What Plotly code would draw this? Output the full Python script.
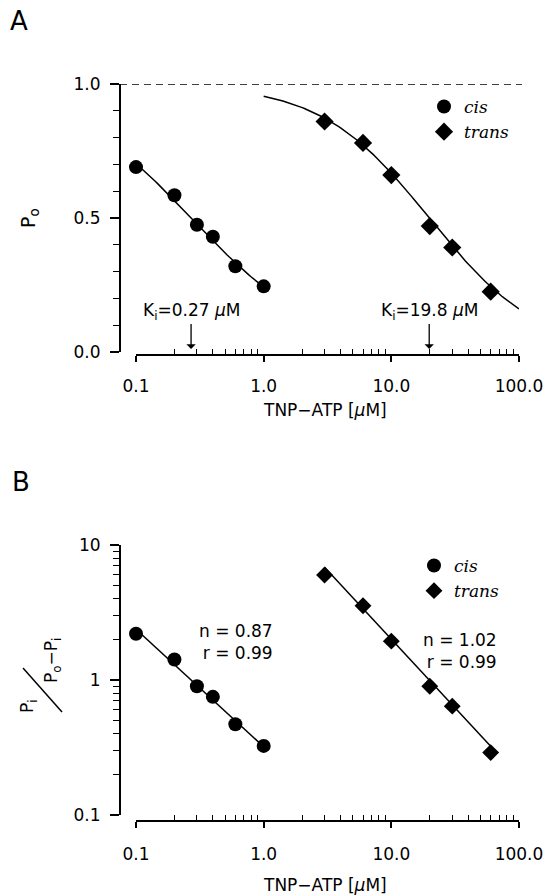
import numpy as np
import plotly.graph_objects as go

# ---------------- data ----------------
conc_cis = [0.1, 0.2, 0.3, 0.4, 0.6, 1.0]
po_cis = [0.69, 0.585, 0.475, 0.43, 0.32, 0.245]
conc_trans = [3, 6, 10, 20, 30, 60]
po_trans = [0.86, 0.78, 0.66, 0.47, 0.39, 0.225]

hill_cis = [2.2, 1.42, 0.90, 0.75, 0.47, 0.325]
hill_trans = [6.0, 3.55, 1.94, 0.90, 0.64, 0.29]

ki_cis, n_cis = 0.27, 0.87
ki_trans, n_trans = 19.8, 1.02
r_cis, r_trans = 0.99, 0.99
po_max = 1.0

x_tickvals = [0.1, 1, 10, 100]
x_ticktext = ["0.1", "1.0", "10.0", "100.0"]
ya_tickvals = [0, 0.5, 1.0]
ya_ticktext = ["0.0", "0.5", "1.0"]
yb_tickvals = [0.1, 1, 10]
yb_ticktext = ["0.1", "1", "10"]
minor_log = [m * d for d in (0.1, 1, 10) for m in range(2, 10)]

# ---------------- layout helpers ----------------
W, H = 555, 895
def fx(px): return px / W
def fy(py): return 1 - py / H

SANS = "DejaVu Sans"
SERIF = "DejaVu Serif"
BLACK = "black"

fig = go.Figure()

# fitted curves (Hill equation with read parameters)
xc = np.logspace(np.log10(0.1), np.log10(1.0), 60)
xt = np.logspace(np.log10(1.0), np.log10(100.0), 120)
fig.add_trace(go.Scatter(x=xc, y=po_max / (1 + (xc / ki_cis) ** n_cis), mode="lines",
                         line=dict(color=BLACK, width=1.5), showlegend=False,
                         xaxis="x", yaxis="y", cliponaxis=False))
fig.add_trace(go.Scatter(x=xt, y=po_max / (1 + (xt / ki_trans) ** n_trans), mode="lines",
                         line=dict(color=BLACK, width=1.5), showlegend=False,
                         xaxis="x", yaxis="y", cliponaxis=False))
fig.add_trace(go.Scatter(x=conc_cis, y=po_cis, mode="markers", name="cis",
                         marker=dict(symbol="circle", size=14, color=BLACK),
                         xaxis="x", yaxis="y", legend="legend", cliponaxis=False))
fig.add_trace(go.Scatter(x=conc_trans, y=po_trans, mode="markers", name="trans",
                         marker=dict(symbol="diamond", size=14, color=BLACK),
                         xaxis="x", yaxis="y", legend="legend", cliponaxis=False))

# panel B
xcb = np.logspace(np.log10(0.1), np.log10(1.0), 20)
xtb = np.logspace(np.log10(3.0), np.log10(60.0), 20)
fig.add_trace(go.Scatter(x=xcb, y=(ki_cis / xcb) ** n_cis, mode="lines",
                         line=dict(color=BLACK, width=1.5), showlegend=False,
                         xaxis="x2", yaxis="y2", cliponaxis=False))
fig.add_trace(go.Scatter(x=xtb, y=(ki_trans / xtb) ** n_trans, mode="lines",
                         line=dict(color=BLACK, width=1.5), showlegend=False,
                         xaxis="x2", yaxis="y2", cliponaxis=False))
fig.add_trace(go.Scatter(x=conc_cis, y=hill_cis, mode="markers", name="cis",
                         marker=dict(symbol="circle", size=14, color=BLACK),
                         xaxis="x2", yaxis="y2", legend="legend2", cliponaxis=False))
fig.add_trace(go.Scatter(x=conc_trans, y=hill_trans, mode="markers", name="trans",
                         marker=dict(symbol="diamond", size=13, color=BLACK),
                         xaxis="x2", yaxis="y2", legend="legend2", cliponaxis=False))

tickfont = dict(family=SANS, size=17, color=BLACK)

def xaxis_cfg(pos_px, standoff):
    return dict(type="log", range=[-1, 2], domain=[fx(136), fx(519)],
                anchor="free", position=fy(pos_px), showline=True, linecolor=BLACK,
                linewidth=2, ticks="outside", ticklen=6, tickwidth=1.5, tickcolor=BLACK,
                tickvals=x_tickvals, ticktext=x_ticktext, tickfont=tickfont,
                ticklabelstandoff=standoff, showgrid=False, zeroline=False, automargin=False,
                minor=dict(ticks="inside", ticklen=5, tickwidth=1.2, tickcolor=BLACK,
                           tickvals=minor_log, showgrid=False))

legfont = dict(family=SERIF, size=17, style="italic", color=BLACK)

fig.update_layout(
    template="none",
    width=W, height=H, margin=dict(l=0, r=0, t=0, b=0, pad=0, autoexpand=False),
    paper_bgcolor="white", plot_bgcolor="white",
    xaxis=xaxis_cfg(355, 10),
    yaxis=dict(range=[0, 1], domain=[fy(352), fy(84)], anchor="free", position=fx(120),
               showline=True, linecolor=BLACK, linewidth=2, ticks="outside", ticklen=9,
               tickwidth=1.5, tickcolor=BLACK, tickvals=ya_tickvals, ticktext=ya_ticktext,
               tickfont=tickfont, ticklabelstandoff=6, showgrid=False, zeroline=False,
               automargin=False,
               minor=dict(ticks="outside", ticklen=6, tickwidth=1.2, tickcolor=BLACK,
                          dtick=0.1, showgrid=False)),
    xaxis2=xaxis_cfg(821, 12),
    yaxis2=dict(type="log", range=[-1, 1], domain=[fy(815), fy(545)], anchor="free",
                position=fx(120), showline=True, linecolor=BLACK, linewidth=2,
                ticks="outside", ticklen=9, tickwidth=1.5, tickcolor=BLACK,
                tickvals=yb_tickvals, ticktext=yb_ticktext, tickfont=tickfont,
                ticklabelstandoff=6, showgrid=False, zeroline=False, automargin=False,
                minor=dict(ticks="outside", ticklen=6, tickwidth=1.2, tickcolor=BLACK,
                           tickvals=minor_log, showgrid=False)),
    legend=dict(x=fx(424), y=fy(89), xanchor="left", yanchor="top", font=legfont,
                bgcolor="rgba(0,0,0,0)", itemwidth=30, borderwidth=0),
    legend2=dict(x=fx(414), y=fy(548), xanchor="left", yanchor="top", font=legfont,
                 bgcolor="rgba(0,0,0,0)", itemwidth=30, borderwidth=0),
)

# dashed line at Po = 1
fig.add_shape(type="line", xref="paper", yref="y", x0=fx(120), x1=fx(522),
              y0=po_max, y1=po_max, line=dict(color=BLACK, width=1.5, dash="7px,5px"))

# slash for the fraction label in B
fig.add_shape(type="line", xref="paper", yref="paper", x0=fx(23), y0=fy(668),
              x1=fx(62), y1=fy(712), line=dict(color=BLACK, width=1.5))

ann = []
txt = dict(family=SANS, size=17, color=BLACK)
C = dict(xref="paper", yref="paper", showarrow=False, xanchor="center", yanchor="middle")
# panel labels
ann.append(dict(text="A", x=fx(19), y=fy(21), font=dict(family=SANS, size=26, color=BLACK), **C))
ann.append(dict(text="B", x=fx(21), y=fy(482), font=dict(family=SANS, size=26, color=BLACK), **C))
# axis titles
for ypx in (410, 885):
    ann.append(dict(text="TNP−ATP [<i>μ</i>M]", x=fx(325), y=fy(ypx), font=txt, **C))
ann.append(dict(text="P<sub>o</sub>", x=fx(30), y=fy(218), textangle=-90,
                font=dict(family=SANS, size=19, color=BLACK), **C))
ann.append(dict(text="P<sub>i</sub>", x=fx(28), y=fy(706), textangle=-90, font=txt, **C))
ann.append(dict(text="P<sub>o</sub>−P<sub>i</sub>", x=fx(52), y=fy(661), textangle=-90,
                font=txt, **C))
# Ki arrows
for ki in (ki_cis, ki_trans):
    ann.append(dict(text=f"K<sub>i</sub>={ki} <i>μ</i>M", x=np.log10(ki), xref="x",
                    y=fy(349), yref="paper", showarrow=True, ax=0, ay=-38,
                    arrowhead=1, arrowsize=1.2, arrowwidth=1.3, arrowcolor=BLACK,
                    font=txt))
# Hill fit stats
ann.append(dict(text=f"n = {n_cis}<br>r = {r_cis}", x=fx(236), y=fy(642), font=txt,
                align="right", **C))
ann.append(dict(text=f"n = {n_trans:.2f}<br>r = {r_trans}", x=fx(460), y=fy(651), font=txt,
                align="right", **C))
fig.update_layout(annotations=ann)

fig.write_html("out.html", config={"displayModeBar": False},
               post_script="document.body.style.margin='0px';")
